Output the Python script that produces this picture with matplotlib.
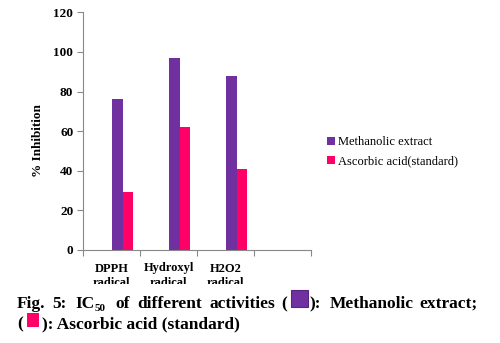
import matplotlib
matplotlib.use('Agg')
import matplotlib.pyplot as plt
from matplotlib.patches import Rectangle

plt.rcParams['font.family'] = ['Liberation Serif', 'DejaVu Serif']

# data
categories = ['DPPH\nradical', 'Hydroxyl\nradical', 'H2O2\nradical', '']
methanolic = [76, 97, 88]
ascorbic = [29.5, 62, 41]
series_names = ['Methanolic extract', 'Ascorbic acid(standard)']
purple = '#7030A0'
pink = '#FF0066'

W, H = 500, 343
fig = plt.figure(figsize=(W / 100, H / 100), dpi=100)
ax = fig.add_axes([83 / W, 1 - 250 / H, (311 - 83) / W, (250 - 12.3) / H])

bw = 0.184
xs = list(range(len(methanolic)))
ax.bar([x + 0.509 for x in xs], methanolic, width=bw, align='edge', color=purple, label=series_names[0])
ax.bar([x + 0.509 + bw for x in xs], ascorbic, width=bw, align='edge', color=pink, label=series_names[1])

ax.set_xlim(0, 4)
ax.set_ylim(0, 120)
ax.set_yticks(range(0, 121, 20))
ax.set_xticks(range(5))
ax.set_xticklabels([])
ax.set_xticks([i + 0.5 for i in range(4)], minor=True)
ax.set_xticklabels(categories, minor=True, fontsize=9, fontweight='bold', linespacing=1.3)
ax.tick_params(axis='x', which='minor', length=0, pad=9)
ax.tick_params(axis='x', which='major', length=4, color='#888888')
ax.tick_params(axis='y', length=4, color='#888888', pad=3, labelsize=9.5)
for lab in ax.get_yticklabels():
    lab.set_fontweight('bold')
for s in ['top', 'right']:
    ax.spines[s].set_visible(False)
for s in ['left', 'bottom']:
    ax.spines[s].set_color('#888888')

fig.text(38 / W, 1 - 141 / H, '% Inhibition', rotation=90, ha='center', va='center',
         fontsize=9.5, fontweight='bold')

ax.legend(loc='upper left', bbox_to_anchor=(327 / W, 1 - 136 / H), bbox_transform=fig.transFigure,
          frameon=False, fontsize=9, handlelength=0.6, handleheight=0.6, handletextpad=0.25,
          labelspacing=0.62, borderaxespad=0, borderpad=0)

# white band clipping the chart bottom, caption below
fig.patches.append(Rectangle((0, 0), 1, 1 - 284 / H, transform=fig.transFigure,
                             facecolor='white', edgecolor='none', zorder=2))

def ftxt(x, y, s, size=12.5):
    fig.text(x / W, 1 - y / H, s, fontsize=size, fontweight='bold', va='baseline', zorder=5)

b1, b2 = 308, 328
ftxt(17, b1, 'Fig.')
ftxt(52, b1, '5:')
ftxt(75, b1, 'IC')
ftxt(95, b1 + 3, '50', size=8)
ftxt(115, b1, 'of')
ftxt(137, b1, 'different')
ftxt(209, b1, 'activities')
ftxt(281, b1, '(')
ftxt(310, b1, '):')
ftxt(330, b1, 'Methanolic')
ftxt(419, b1, 'extract;')
ftxt(17, b2, '(')
ftxt(42, b2, '): Ascorbic acid (standard)')

fig.patches.append(Rectangle((291 / W, 1 - 307 / H), 17 / W, 17 / H, transform=fig.transFigure,
                             facecolor=purple, edgecolor='#5a2580', lw=0.8, zorder=5))
fig.patches.append(Rectangle((27 / W, 1 - 327 / H), 12 / W, 14 / H, transform=fig.transFigure,
                             facecolor=pink, edgecolor='none', zorder=5))

fig.savefig('out.png', dpi=100)
